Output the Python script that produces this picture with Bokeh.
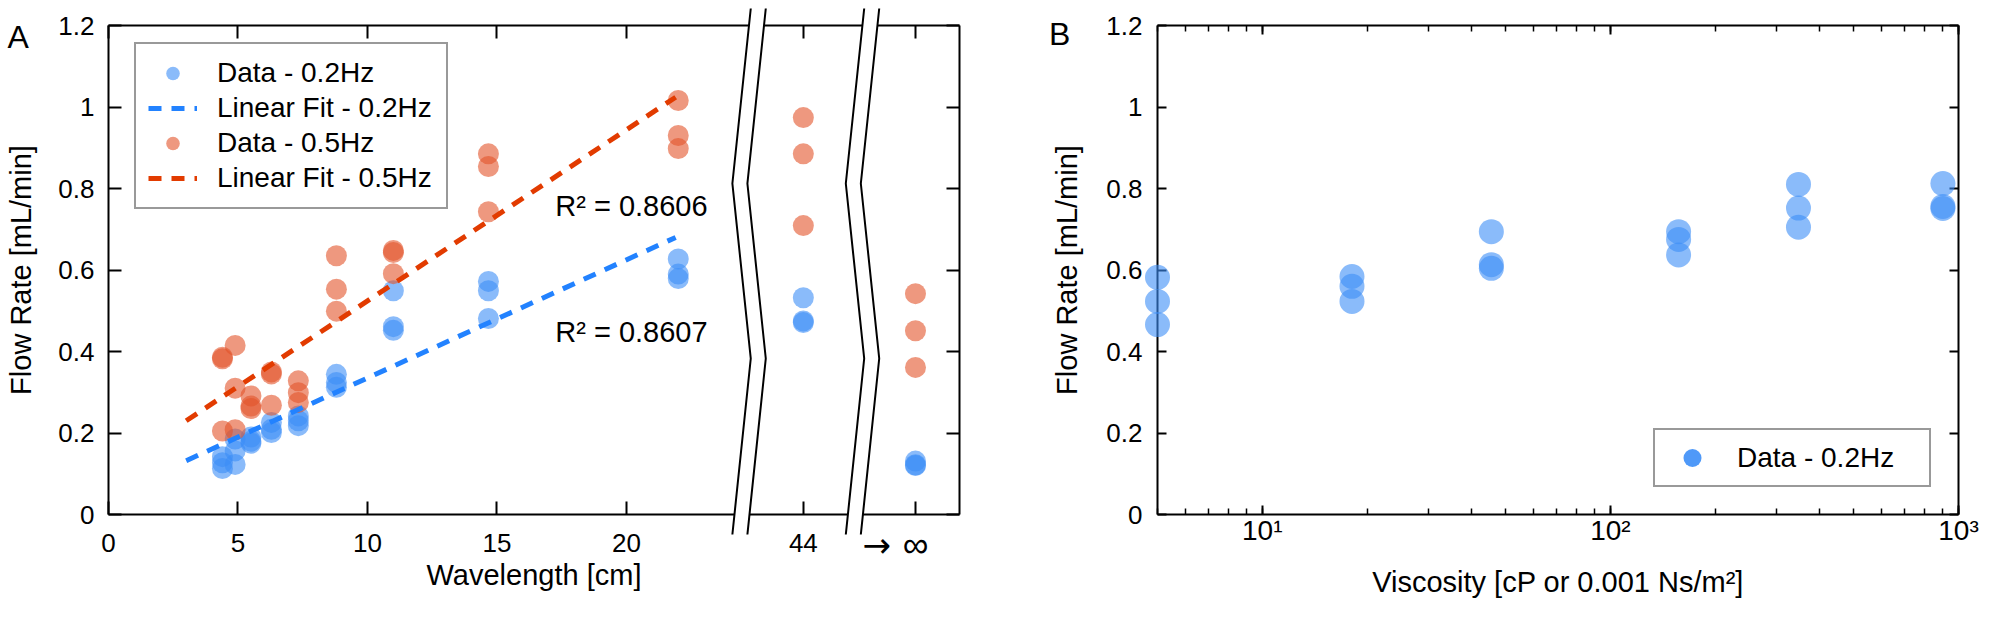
import numpy as np
from bokeh.plotting import figure
from bokeh.models import (ColumnDataSource, Range1d, FixedTicker, LinearAxis, LogAxis,
                          LogTicker, Legend, LegendItem, Label)
from bokeh.layouts import row
from bokeh.embed import file_html
from bokeh.resources import INLINE

FONT = "Liberation Sans"

# ---------------- Panel A data ----------------
wavelength_cm = [4.4, 4.89, 5.5, 6.29, 7.33, 8.8, 11.0, 14.67, 22.0]
flow_02hz = [
    [0.142, 0.127, 0.113],
    [0.185, 0.156, 0.123],
    [0.190, 0.180, 0.175],
    [0.226, 0.209, 0.201],
    [0.242, 0.230, 0.218],
    [0.344, 0.324, 0.312],
    [0.549, 0.461, 0.452],
    [0.572, 0.549, 0.481],
    [0.627, 0.590, 0.579],
]
flow_05hz = [
    [0.386, 0.382, 0.205],
    [0.415, 0.310, 0.208],
    [0.291, 0.266, 0.260],
    [0.350, 0.345, 0.268],
    [0.328, 0.299, 0.275],
    [0.635, 0.553, 0.499],
    [0.648, 0.643, 0.591],
    [0.885, 0.854, 0.743],
    [1.016, 0.930, 0.898],
]
far_wavelength = ["44", "∞"]
far_flow_02hz = [[0.532, 0.475, 0.471], [0.131, 0.122, 0.120]]
far_flow_05hz = [[0.974, 0.885, 0.709], [0.542, 0.451, 0.361]]

fit_x = [3.0, 21.9]
fit_02hz = [0.132, 0.680]
fit_05hz = [0.230, 1.024]
r2_02hz = 0.8607
r2_05hz = 0.8606

x_ticks_near = [0, 5, 10, 15, 20]
y_ticks = [0, 0.2, 0.4, 0.6, 0.8, 1.0, 1.2]

# ---------------- Panel B data ----------------
viscosity_cP = [5, 18.1, 45.5, 157, 347, 902]
flow_visc_02hz = [
    [0.582, 0.523, 0.466],
    [0.584, 0.560, 0.523],
    [0.694, 0.613, 0.604],
    [0.694, 0.675, 0.637],
    [0.810, 0.752, 0.705],
    [0.812, 0.756, 0.751],
]
log_major = [10, 100, 1000]
log_tick_labels = ["10¹", "10²", "10³"]

# ---------------- styling ----------------
BLUE_PT = "#3c8ef7"
ORANGE_PT = "#e3532a"
BLUE_FIT = "#2282ff"
RED_FIT = "#e23b00"
PT_ALPHA = 0.6

# broken x-axis layout for panel A (axis units)
X_MAX = 32.86
FAR_POS = {"44": 26.83, "∞": 31.16}
BREAK_LEFT = [24.80, 29.18]
BREAK_WIDTH = 0.58
BREAK_ZIG = 0.71
BREAK_Y = [1.2417, 0.8123, 0.3828, -0.0491]


def flatten(xs, ys):
    X, Y = [], []
    for x, trio in zip(xs, ys):
        for v in trio:
            X.append(x)
            Y.append(v)
    return X, Y


def style_axis(ax, tick_in, standoff=14, label_size="26px", minor_in=None):
    ax.axis_line_color = "black"
    ax.axis_line_width = 2
    ax.major_tick_in = tick_in
    ax.major_tick_out = 0
    ax.major_tick_line_color = "black"
    ax.major_tick_line_width = 2
    if minor_in:
        ax.minor_tick_in = minor_in
        ax.minor_tick_out = 0
        ax.minor_tick_line_color = "black"
        ax.minor_tick_line_width = 1.5
    else:
        ax.minor_tick_line_color = None
    ax.major_label_text_font = FONT
    ax.major_label_text_color = "black"
    ax.major_label_text_font_size = label_size
    ax.major_label_standoff = standoff
    ax.axis_label_text_font = FONT
    ax.axis_label_text_font_size = "29px"
    ax.axis_label_text_font_style = "normal"
    ax.axis_label_text_color = "black"


def blank_axis(ax, ticks, tick_in, minor_in=None):
    style_axis(ax, tick_in, standoff=0, label_size="1px", minor_in=minor_in)
    ax.major_label_overrides = {t: "" for t in ticks}


def side_label(p, **kw):
    base = dict(x_units="data", y_units="data", text_font=FONT, text_color="black")
    base.update(kw)
    p.add_layout(Label(**base), "right")


# ================= Panel A =================
xA02, yA02 = flatten(wavelength_cm, flow_02hz)
xf, yf = flatten([FAR_POS[w] for w in far_wavelength], far_flow_02hz)
xA02 += xf
yA02 += yf
xA05, yA05 = flatten(wavelength_cm, flow_05hz)
xf, yf = flatten([FAR_POS[w] for w in far_wavelength], far_flow_05hz)
xA05 += xf
yA05 += yf

pA = figure(frame_width=851, frame_height=489,
            min_border_left=108, min_border_right=81,
            min_border_top=25, min_border_bottom=98,
            x_range=Range1d(0, X_MAX), y_range=Range1d(0, 1.2),
            output_backend="svg", toolbar_location=None)
pA.outline_line_color = None
pA.xgrid.visible = False
pA.ygrid.visible = False
pA.background_fill_color = "white"
pA.border_fill_color = "white"

x_ticks_A = x_ticks_near + [FAR_POS[w] for w in far_wavelength]
x_over_A = {t: str(t) for t in x_ticks_near}
x_over_A[FAR_POS["44"]] = "44"
x_over_A[FAR_POS["∞"]] = ""
y_over = {t: f"{t:g}" for t in y_ticks}

bx = pA.xaxis[0]
bx.ticker = FixedTicker(ticks=x_ticks_A)
bx.major_label_overrides = x_over_A
bx.axis_label = "Wavelength [cm]"
style_axis(bx, 13, standoff=19)
bx.axis_label_standoff = 4

ly = pA.yaxis[0]
ly.ticker = FixedTicker(ticks=y_ticks)
ly.major_label_overrides = y_over
ly.axis_label = "Flow Rate [mL/min]"
style_axis(ly, 13, standoff=14)
ly.axis_label_standoff = 18

tx = LinearAxis(ticker=FixedTicker(ticks=x_ticks_A))
blank_axis(tx, x_ticks_A, 13)
pA.add_layout(tx, "above")
ry = LinearAxis(ticker=FixedTicker(ticks=y_ticks))
blank_axis(ry, y_ticks, 13)
pA.add_layout(ry, "right")

srcA02 = ColumnDataSource(dict(x=xA02, y=yA02))
srcA05 = ColumnDataSource(dict(x=xA05, y=yA05))
r_d02 = pA.scatter("x", "y", source=srcA02, size=21, marker="circle",
                   fill_color=BLUE_PT, fill_alpha=PT_ALPHA, line_color=None)
r_d05 = pA.scatter("x", "y", source=srcA05, size=21, marker="circle",
                   fill_color=ORANGE_PT, fill_alpha=PT_ALPHA, line_color=None)
r_f02 = pA.line(fit_x, fit_02hz, line_color=BLUE_FIT, line_width=5,
                line_dash="13 10", line_cap="butt")
r_f05 = pA.line(fit_x, fit_05hz, line_color=RED_FIT, line_width=5,
                line_dash="13 10", line_cap="butt")

legA = Legend(items=[
    LegendItem(label="Data - 0.2Hz", renderers=[r_d02]),
    LegendItem(label="Linear Fit - 0.2Hz", renderers=[r_f02]),
    LegendItem(label="Data - 0.5Hz", renderers=[r_d05]),
    LegendItem(label="Linear Fit - 0.5Hz", renderers=[r_f05]),
], location=(26, 305))
legA.label_text_font = FONT
legA.label_text_font_size = "28px"
legA.label_text_color = "black"
legA.padding = 12
legA.spacing = 1
legA.glyph_width = 49
legA.glyph_height = 34
legA.label_height = 34
legA.label_width = 217
legA.label_standoff = 20
legA.border_line_color = "#333333"
legA.border_line_width = 2
legA.background_fill_color = "white"
legA.background_fill_alpha = 1
pA.add_layout(legA)

# R^2 annotations
for fy, r2 in ((0.758, r2_05hz), (0.447, r2_02hz)):
    pA.add_layout(Label(x=17.25, y=fy, x_units="data", y_units="data",
                        text=f"R² = {r2:.4f}", text_font=FONT,
                        text_font_size="29px", text_color="black",
                        text_baseline="alphabetic", text_align="left"))

# axis breaks: white bands with zig-zag edges, drawn above the axes and not clipped
band_xs, band_ys, edge_xs, edge_ys = [], [], [], []
for L in BREAK_LEFT:
    edges = []
    for off in (0.0, BREAK_WIDTH):
        pts_x = [L + off - (BREAK_ZIG if i % 2 else 0.0) for i in range(4)]
        edges.append(pts_x)
        edge_xs.append(pts_x)
        edge_ys.append(list(BREAK_Y))
    band_xs.append(edges[0] + edges[1][::-1])
    band_ys.append(BREAK_Y + BREAK_Y[::-1])
pA.patches(band_xs, band_ys, fill_color="white", fill_alpha=1, line_color=None,
           level="overlay")
pA.multi_line(edge_xs, edge_ys, line_color="black", line_width=2, level="overlay")

# "→ ∞" tick label and panel letter (placed in the side panel so they are not clipped)
side_label(pA, x=FAR_POS["∞"] - 1.5, y=-0.076, text="→", text_font="DejaVu Sans",
           text_font_size="34px", text_align="center", text_baseline="middle")
side_label(pA, x=FAR_POS["∞"], y=-0.074, text="∞", text_font_size="36px",
           text_align="center", text_baseline="middle")
side_label(pA, x=-3.9, y=1.173, text="A", text_font_size="32px",
           text_baseline="alphabetic")

# ================= Panel B =================
xB, yB = flatten(viscosity_cP, flow_visc_02hz)

pB = figure(x_axis_type="log", frame_width=801, frame_height=489,
            min_border_left=117, min_border_right=35,
            min_border_top=25, min_border_bottom=98,
            x_range=Range1d(5, 1000), y_range=Range1d(0, 1.2),
            output_backend="svg", toolbar_location=None)
pB.outline_line_color = None
pB.xgrid.visible = False
pB.ygrid.visible = False
pB.background_fill_color = "white"
pB.border_fill_color = "white"

bxB = pB.xaxis[0]
bxB.ticker = LogTicker(num_minor_ticks=10)
bxB.major_label_overrides = dict(zip(log_major, log_tick_labels))
bxB.axis_label = "Viscosity [cP or 0.001 Ns/m²]"
style_axis(bxB, 9, standoff=0, label_size="28px", minor_in=6)
bxB.axis_label_standoff = 17

lyB = pB.yaxis[0]
lyB.ticker = FixedTicker(ticks=y_ticks)
lyB.major_label_overrides = y_over
lyB.axis_label = "Flow Rate [mL/min]"
style_axis(lyB, 9, standoff=15)
lyB.axis_label_standoff = 20

txB = LogAxis(ticker=LogTicker(num_minor_ticks=10))
blank_axis(txB, log_major, 9, minor_in=6)
pB.add_layout(txB, "above")
ryB = LinearAxis(ticker=FixedTicker(ticks=y_ticks))
blank_axis(ryB, y_ticks, 9)
pB.add_layout(ryB, "right")

srcB = ColumnDataSource(dict(x=xB, y=yB))
pB.scatter("x", "y", source=srcB, size=25, marker="circle",
           fill_color=BLUE_PT, fill_alpha=PT_ALPHA, line_color=None, level="overlay")
# legend swatch: same data drawn darker, renderer itself hidden
r_legB = pB.scatter("x", "y", source=srcB, size=25, marker="circle",
                    fill_color=BLUE_PT, fill_alpha=0.9, line_color=None, visible=False)

legB = Legend(items=[LegendItem(label="Data - 0.2Hz", renderers=[r_legB])],
              location=(496, 27))
legB.label_text_font = FONT
legB.label_text_font_size = "28px"
legB.label_text_color = "black"
legB.padding = 5
legB.glyph_width = 64
legB.glyph_height = 45
legB.label_height = 45
legB.label_width = 187
legB.label_standoff = 13
legB.inactive_fill_alpha = 0
legB.border_line_color = "#333333"
legB.border_line_width = 2
legB.background_fill_color = "white"
legB.background_fill_alpha = 1
pB.add_layout(legB)

side_label(pB, x=2.44, y=1.178, text="B", text_font_size="32px",
           text_baseline="alphabetic")

layout = row(pA, pB)
open("out.html", "w").write(file_html(layout, INLINE))
